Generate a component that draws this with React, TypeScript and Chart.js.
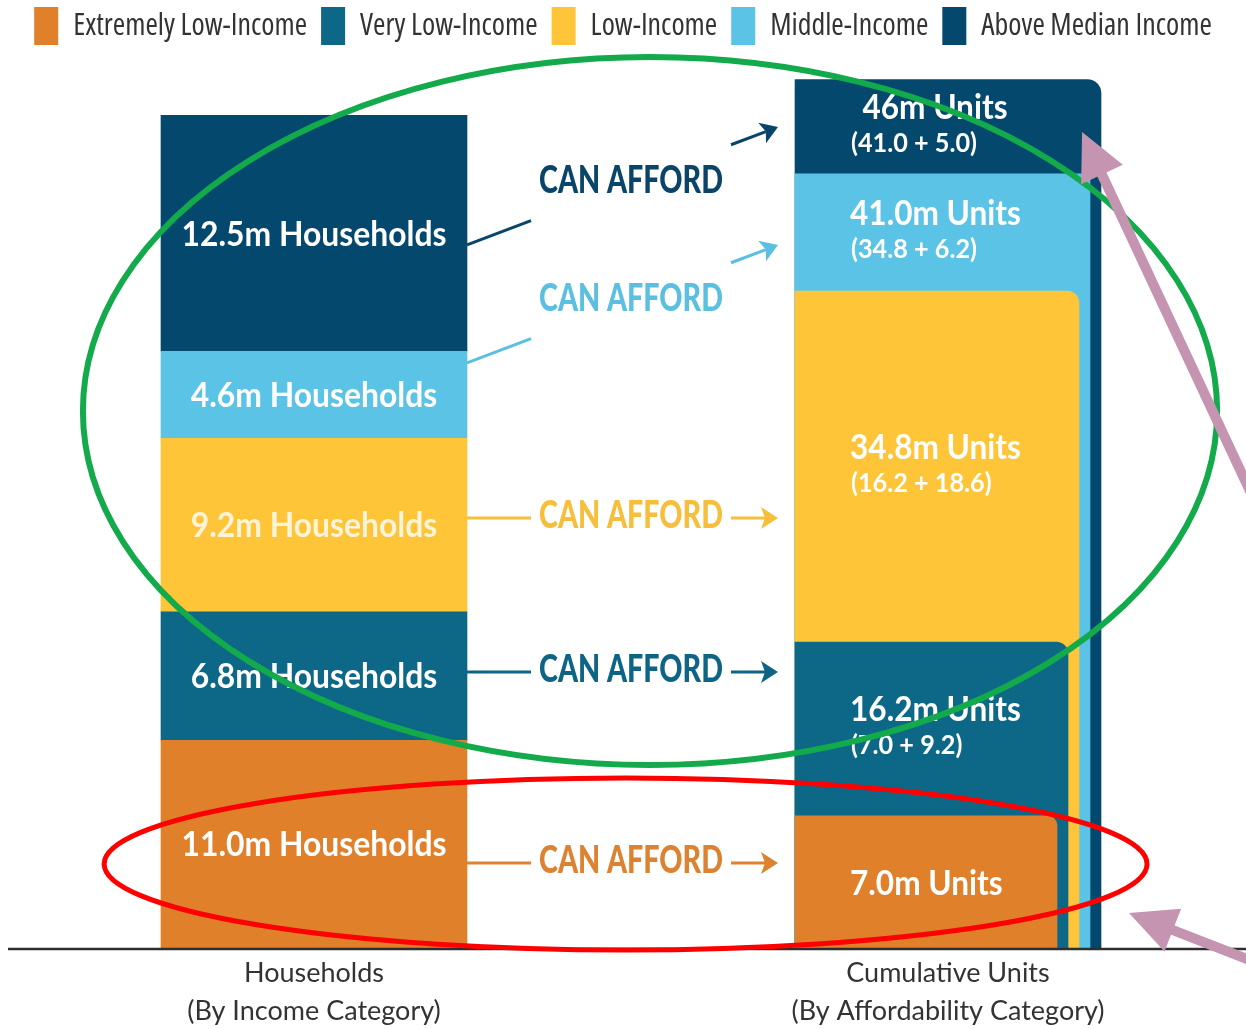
import React, { useEffect, useRef } from 'react';
import { Chart, registerables } from 'chart.js';

Chart.register(...registerables);

// ---------------- data ----------------
const INCOME_CATEGORIES = ['Extremely Low-Income', 'Very Low-Income', 'Low-Income', 'Middle-Income', 'Above Median Income'];
const HOUSEHOLDS_M = [11.0, 6.8, 9.2, 4.6, 12.5];
const CUMULATIVE_UNITS_M = [7.0, 16.2, 34.8, 41.0, 46.0];
const HOUSEHOLD_LABELS = ['11.0m Households', '6.8m Households', '9.2m Households', '4.6m Households', '12.5m Households'];
const UNIT_LABELS = ['7.0m Units', '16.2m Units', '34.8m Units', '41.0m Units', '46m Units'];
const UNIT_BREAKDOWNS = ['', '(7.0 + 9.2)', '(16.2 + 18.6)', '(34.8 + 6.2)', '(41.0 + 5.0)'];
const X_TICK_LABELS = [['Households', '(By Income Category)'], '', ['Cumulative Units', '(By Affordability Category)']];
const CONNECTOR_TEXT = 'CAN AFFORD';

// ---------------- styles ----------------
const BAR_COLORS = ['#E0802B', '#0C6886', '#FDC537', '#5BC4E6', '#05486E'];
const CONNECTOR_COLORS = ['#DC8231', '#0E6484', '#F6BE3B', '#5ABFE1', '#0A4468'];
const HOUSEHOLD_TEXT_COLORS = ['#FFFFFF', '#FFFFFF', '#FFF4DA', '#FFFFFF', '#FFFFFF'];
const UNIT_BAR_WIDTHS = [262, 273, 284, 295, 306];
const UNIT_CORNER_RADII = [10, 12, 12, 0, 14];
const HOUSEHOLD_BAR_WIDTH = 306;

// ---------------- annotations (data space: x = category index, y = millions) ----------------
const ANNOT_CONNECTOR_FROM = [4.5, 14.62, 22.78, 30.99, 37.24];
const ANNOT_CONNECTOR_TO = [4.5, 14.62, 22.78, 37.24, 43.49];
const ANNOT_GREEN_ELLIPSE = { cx: 1.06, cy: 28.44, rx: 1.789, ry: 18.75 };
const ANNOT_RED_ELLIPSE = { cx: 0.983, cy: 4.45, rx: 1.645, ry: 4.555 };
const ANNOT_PINK_ARROWS = [
  { from: [3.016, 21.93], to: [2.423, 43.22] },
  { from: [3.016, -1.06], to: [2.571, 1.854] },
];

const N = HOUSEHOLDS_M.length;

// Pick an available condensed face for the legend (reference uses a condensed sans)
function pickLegendFont() {
  const c = document.createElement('canvas').getContext('2d')!;
  const sample = INCOME_CATEGORIES[0];
  const target = 242;
  const measure = (f: string, t: string) => { c.font = f; return c.measureText(t).width; };
  const mono = measure('29px monospace', sample);
  const candidates = [
    { weight: undefined as any, family: '"Liberation Sans Narrow"' },
    { weight: 'condensed', family: '"Noto Sans"' },
    { weight: 'condensed', family: '"Open Sans"' },
    { weight: 'semi-condensed', family: '"Noto Sans"' },
    { weight: 'condensed', family: '"DejaVu Sans"' },
    { weight: undefined as any, family: '"DejaVu Sans Condensed"' },
  ];
  let best: any = null;
  let bestErr = Infinity;
  let bestW = 0;
  for (const cand of candidates) {
    const plain = measure(`29px ${cand.family}, monospace`, sample);
    if (Math.abs(plain - mono) < 0.5) continue;
    const w = measure(`${cand.weight ? cand.weight + ' ' : ''}29px ${cand.family}, monospace`, sample);
    const err = Math.abs(w - target);
    if (w < 262 && err < bestErr) { best = cand; bestErr = err; bestW = w; }
  }
  if (!best) return { family: '"Liberation Sans", sans-serif', size: 24 } as any;
  let size = Math.min(32, Math.max(20, Math.round((29 * target) / bestW)));
  for (; size > 18; size--) {
    const f = `${best.weight ? best.weight + ' ' : ''}${size}px ${best.family}, sans-serif`;
    const total = INCOME_CATEGORIES.reduce((s, t) => s + 24 + size / 2 + measure(f, t), 0) + 6 * 14;
    if (total < 1238) break;
  }
  return { weight: best.weight, family: best.family + ', sans-serif', size } as any;
}

function fitScale(ctx: CanvasRenderingContext2D, font: string, text: string, width: number) {
  ctx.save();
  ctx.font = font;
  const w = ctx.measureText(text).width;
  ctx.restore();
  return w > 0 ? width / w : 1;
}

function drawText(ctx: CanvasRenderingContext2D, text: string, x: number, y: number, font: string, color: string, align: CanvasTextAlign, sx: number) {
  ctx.save();
  ctx.font = font;
  ctx.fillStyle = color;
  ctx.textBaseline = 'middle';
  ctx.textAlign = align;
  ctx.translate(x, y);
  ctx.scale(sx, 1);
  ctx.fillText(text, 0, 0);
  ctx.restore();
}

function drawBlockArrow(ctx: CanvasRenderingContext2D, x0: number, y0: number, x1: number, y1: number, headLen: number, headW: number, shaftW: number, color: string) {
  const a = Math.atan2(y1 - y0, x1 - x0);
  const c = Math.cos(a), s = Math.sin(a);
  const bx = x1 - headLen * c, by = y1 - headLen * s;
  ctx.save();
  ctx.strokeStyle = color;
  ctx.fillStyle = color;
  ctx.lineWidth = shaftW;
  ctx.lineCap = 'butt';
  ctx.beginPath();
  ctx.moveTo(x0, y0);
  ctx.lineTo(bx + 2 * c, by + 2 * s);
  ctx.stroke();
  ctx.beginPath();
  ctx.moveTo(x1, y1);
  ctx.lineTo(bx - (headW / 2) * s, by + (headW / 2) * c);
  ctx.lineTo(bx + (headW / 2) * s, by - (headW / 2) * c);
  ctx.closePath();
  ctx.fill();
  ctx.restore();
}

const affordabilityPlugin = {
  id: 'affordability',
  afterDatasetsUpdate(chart: any) {
    const xs = chart.scales.x;
    const cx = xs.getPixelForValue(2);
    const left = cx - Math.max(...UNIT_BAR_WIDTHS) / 2;
    for (let i = 0; i < N; i++) {
      const el = chart.getDatasetMeta(N + i).data[2];
      if (el) el.x = left + el.width / 2;
    }
  },
  afterDatasetsDraw(chart: any) {
    const ctx: CanvasRenderingContext2D = chart.ctx;
    const xs = chart.scales.x, ys = chart.scales.y;
    const X = (v: number) => xs.getPixelForValue(v);
    const Y = (v: number) => ys.getPixelForValue(v);

    // baseline
    ctx.save();
    ctx.strokeStyle = '#2E2E2E';
    ctx.lineWidth = 2.5;
    ctx.beginPath();
    ctx.moveTo(8, Y(0) + 1);
    ctx.lineTo(chart.width, Y(0) + 1);
    ctx.stroke();
    ctx.restore();

    // household labels
    const hhFont = 'bold 35px Lato, "Liberation Sans", sans-serif';
    const hhScale = fitScale(ctx, hhFont, '12.5m Households', 265);
    for (let i = 0; i < N; i++) {
      const el = chart.getDatasetMeta(i).data[0];
      drawText(ctx, HOUSEHOLD_LABELS[i], el.x, (el.y + el.base) / 2 + 1, hhFont, HOUSEHOLD_TEXT_COLORS[i], 'center', hhScale);
    }

    // unit labels
    const uFont = 'bold 35px Lato, "Liberation Sans", sans-serif';
    const uScale = fitScale(ctx, uFont, '41.0m Units', 171);
    const sFont = 'bold 26px Lato, "Liberation Sans", sans-serif';
    const sScale = fitScale(ctx, sFont, '(34.8 + 6.2)', 126);
    for (let i = 0; i < N; i++) {
      const el = chart.getDatasetMeta(N + i).data[2];
      const barLeft = el.x - el.width / 2;
      const top = el.y;
      const bottom = i === 0 ? el.base : chart.getDatasetMeta(N + i - 1).data[2].y;
      const mid = (top + bottom) / 2;
      const hasSub = UNIT_BREAKDOWNS[i] !== '';
      const mainY = hasSub ? mid - 19 : mid + 2;
      if (i === N - 1) {
        drawText(ctx, UNIT_LABELS[i], barLeft + 140, mainY, uFont, '#FFFFFF', 'center', uScale);
      } else {
        drawText(ctx, UNIT_LABELS[i], barLeft + 55, mainY, uFont, '#FFFFFF', 'left', uScale);
      }
      if (hasSub) drawText(ctx, UNIT_BREAKDOWNS[i], barLeft + 56, mid + 17, sFont, '#FFFFFF', 'left', sScale);
    }

    // connectors
    const cFont = '900 38px Lato, "Liberation Sans", sans-serif';
    const cScale = fitScale(ctx, cFont, CONNECTOR_TEXT, 184);
    const xm = X(1);
    const gap = 100;
    for (let i = 0; i < N; i++) {
      const seg = chart.getDatasetMeta(i).data[0];
      const bar = chart.getDatasetMeta(N + N - 1).data[2];
      const x0 = seg.x + seg.width / 2;
      const x1 = bar.x - bar.width / 2 - 17;
      const y0 = Y(ANNOT_CONNECTOR_FROM[i]);
      const y1 = Y(ANNOT_CONNECTOR_TO[i]);
      const yAt = (x: number) => y0 + ((y1 - y0) * (x - x0)) / (x1 - x0);
      const color = CONNECTOR_COLORS[i];
      const a = Math.atan2(y1 - y0, x1 - x0);
      const c = Math.cos(a), s = Math.sin(a);
      const hl = 17, hw = 11;
      ctx.save();
      ctx.strokeStyle = color;
      ctx.fillStyle = color;
      ctx.lineWidth = 3;
      ctx.beginPath();
      ctx.moveTo(x0, y0);
      ctx.lineTo(xm - gap, yAt(xm - gap));
      ctx.moveTo(xm + gap, yAt(xm + gap));
      ctx.lineTo(x1 - hl * c + 4 * c, y1 - hl * s + 4 * s);
      ctx.stroke();
      const bx = x1 - hl * c, by = y1 - hl * s;
      ctx.beginPath();
      ctx.moveTo(x1, y1);
      ctx.lineTo(bx - hw * s, by + hw * c);
      ctx.lineTo(bx + 4 * c, by + 4 * s);
      ctx.lineTo(bx + hw * s, by - hw * c);
      ctx.closePath();
      ctx.fill();
      ctx.restore();
      drawText(ctx, CONNECTOR_TEXT, xm, yAt(xm) - 2, cFont, color, 'center', cScale);
    }
  },
  afterDraw(chart: any) {
    const ctx: CanvasRenderingContext2D = chart.ctx;
    const xs = chart.scales.x, ys = chart.scales.y;
    const X = (v: number) => xs.getPixelForValue(v);
    const Y = (v: number) => ys.getPixelForValue(v);
    const drawEllipse = (e: any, color: string, width: number) => {
      ctx.save();
      ctx.strokeStyle = color;
      ctx.lineWidth = width;
      ctx.beginPath();
      ctx.ellipse(X(e.cx), Y(e.cy), X(e.cx + e.rx) - X(e.cx), Y(e.cy) - Y(e.cy + e.ry), 0, 0, Math.PI * 2);
      ctx.stroke();
      ctx.restore();
    };
    drawEllipse(ANNOT_GREEN_ELLIPSE, '#12AA4A', 6);
    drawEllipse(ANNOT_RED_ELLIPSE, '#FF0000', 5);
    for (const ar of ANNOT_PINK_ARROWS) {
      drawBlockArrow(ctx, X(ar.from[0]), Y(ar.from[1]), X(ar.to[0]), Y(ar.to[1]), 47, 46, 10, '#C594B0');
    }
  },
};

export default function App() {
  const ref = useRef<HTMLCanvasElement>(null);
  useEffect(() => {
    if (!ref.current) return;
    const legendFont = pickLegendFont();

    const datasets: any[] = [
      ...HOUSEHOLDS_M.map((v, i) => ({
        label: INCOME_CATEGORIES[i],
        data: [v, null, null],
        backgroundColor: BAR_COLORS[i],
        stack: 'households',
        grouped: false,
        barThickness: HOUSEHOLD_BAR_WIDTH,
        borderWidth: 0,
      })),
      ...CUMULATIVE_UNITS_M.map((v, i) => ({
        label: INCOME_CATEGORIES[i] + ' (units)',
        data: [null, null, v],
        backgroundColor: BAR_COLORS[i],
        stack: 'units' + i,
        grouped: false,
        barThickness: UNIT_BAR_WIDTHS[i],
        borderWidth: 0,
        borderRadius: { topLeft: 0, topRight: UNIT_CORNER_RADII[i], bottomLeft: 0, bottomRight: 0 },
      })),
    ];

    const chart = new Chart(ref.current, {
      type: 'bar',
      data: { labels: X_TICK_LABELS as any, datasets },
      options: {
        responsive: false,
        devicePixelRatio: 1,
        animation: false,
        layout: { padding: { top: -7, left: 0, right: 0, bottom: 0 } },
        plugins: {
          legend: {
            position: 'top',
            labels: {
              boxWidth: 24,
              boxHeight: 38,
              padding: 14,
              color: '#333333',
              font: legendFont,
              filter: (item: any) => item.datasetIndex < N,
            },
          },
          tooltip: { enabled: false },
        },
        scales: {
          x: {
            offset: true,
            grid: { display: false, drawTicks: false },
            border: { display: false },
            ticks: {
              color: '#333333',
              font: { family: 'Lato, "Liberation Sans", sans-serif', size: 27, lineHeight: 1.41 },
              padding: 6,
              autoSkip: false,
              maxRotation: 0,
              minRotation: 0,
            },
            afterFit: (s: any) => { s.height = 81; },
          },
          y: {
            min: 0,
            max: 47.3,
            stacked: true,
            position: 'left',
            grid: { display: false, drawTicks: false },
            border: { display: false },
            ticks: { display: false },
            afterFit: (s: any) => { s.width = 155.5; },
          },
          yRight: {
            position: 'right',
            display: true,
            grid: { display: false, drawTicks: false },
            border: { display: false },
            ticks: { display: false },
            afterFit: (s: any) => { s.width = 139.5; },
          },
        },
      } as any,
      plugins: [affordabilityPlugin],
    });
    return () => chart.destroy();
  }, []);

  return (
    <div style={{ position: 'fixed', left: 0, top: 0, width: 1246, height: 1029, background: '#ffffff' }}>
      <canvas ref={ref} width={1246} height={1029} style={{ display: 'block' }} />
    </div>
  );
}
